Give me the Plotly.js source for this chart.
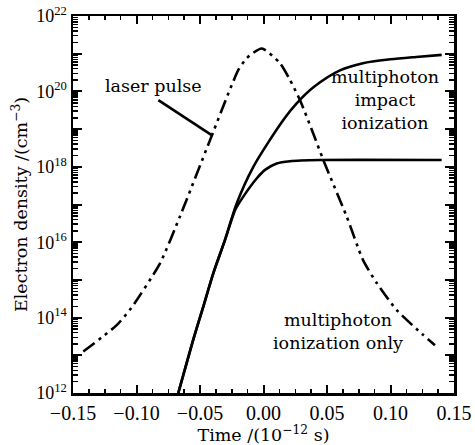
<!DOCTYPE html>
<html>
<head>
<meta charset="utf-8">
<script src="https://cdn.plot.ly/plotly-3.0.1.min.js"></script>
<style>html,body{margin:0;padding:0;background:#fff;}#chart{width:475px;height:445px;}</style>
</head>
<body>
<div id="chart"></div>
<script>
// Time in units of 1e-12 s; electron density in cm^-3
var laserTime = [-0.1419, -0.1156, -0.1038, -0.0815, -0.0657, -0.0421, -0.0198, -0.0132, -0.0014, 0.0130, 0.0209, 0.0287, 0.0390, 0.0471, 0.0655, 0.0783, 0.0891, 0.1049, 0.1256, 0.1350];
var laserDensity = [1.26e13, 6.3e13, 1.86e14, 2.75e15, 4.9e16, 5.1e18, 3.7e20, 7.6e20, 1.38e21, 5.6e20, 2.0e20, 5.9e19, 7.9e18, 1.51e18, 4.8e16, 3.4e15, 8.3e14, 1.58e14, 3.5e13, 1.86e13];

var impactTime = [-0.0671, -0.0553, -0.0474, -0.0395, -0.0303, -0.0211, -0.0080, 0.0156, 0.0261, 0.0398, 0.0602, 0.0783, 0.1000, 0.1201, 0.1403];
var impactDensity = [1e12, 2.6e13, 1.95e14, 1.51e15, 1.15e16, 1.07e17, 1.0e18, 1.74e19, 4.8e19, 1.32e20, 3.6e20, 5.6e20, 7.1e20, 8.2e20, 9.3e20];

var mpiTime = [-0.0671, -0.0553, -0.0474, -0.0395, -0.0303, -0.0224, -0.0159, -0.0054, 0.0012, 0.0104, 0.0209, 0.0445, 0.1403];
var mpiDensity = [1e12, 2.6e13, 1.95e14, 1.51e15, 1.15e16, 7.1e16, 1.62e17, 4.9e17, 8.3e17, 1.23e18, 1.41e18, 1.51e18, 1.51e18];

var xTickVals = [-0.15, -0.10, -0.05, 0.00, 0.05, 0.10, 0.15];
var yTickExps = [12, 13, 14, 15, 16, 17, 18, 19, 20, 21, 22];
var yTickLabels = ['10<sup>12</sup>', '', '10<sup>14</sup>', '', '10<sup>16</sup>', '', '10<sup>18</sup>', '', '10<sup>20</sup>', '', '10<sup>22</sup>'];

var yTickVals = yTickExps.map(function (e) { return Math.pow(10, e); });
var yMinorVals = [];
yTickExps.slice(0, -1).forEach(function (e) {
  for (var m = 2; m <= 9; m++) yMinorVals.push(m * Math.pow(10, e));
});

var serif = "'DejaVu Serif', serif";
var tickSerif = "'Liberation Serif', serif";
var lw = 2.6;

var traces = [
  {x: laserTime, y: laserDensity, mode: 'lines', line: {color: '#000', width: lw, dash: '14px,5px,3px,5px,3px,5px', shape: 'spline', smoothing: 0.6}, hoverinfo: 'skip'},
  {x: impactTime, y: impactDensity, mode: 'lines', line: {color: '#000', width: lw, shape: 'spline', smoothing: 0.8}, hoverinfo: 'skip'},
  {x: mpiTime, y: mpiDensity, mode: 'lines', line: {color: '#000', width: lw, shape: 'spline', smoothing: 0.6}, hoverinfo: 'skip'}
];

var layout = {
  width: 475, height: 445,
  margin: {l: 73, r: 21, t: 16, b: 52},
  paper_bgcolor: '#fff', plot_bgcolor: '#fff',
  showlegend: false,
  font: {family: serif, color: '#000', size: 17},
  xaxis: {
    range: [-0.15, 0.15], tickmode: 'array', tickvals: xTickVals, tickformat: '.2f',
    ticks: 'inside', ticklen: 8, tickwidth: 2, tickcolor: '#000',
    minor: {dtick: 0.0125, tick0: -0.15, ticks: 'inside', ticklen: 4, tickwidth: 1.5, tickcolor: '#000'},
    showline: true, linewidth: 2.5, linecolor: '#000', mirror: 'ticks',
    showgrid: false, zeroline: false,
    tickfont: {family: tickSerif, size: 20},
    title: {text: 'Time /(10<sup>\u221212</sup> s)', font: {family: serif, size: 17.5}, standoff: 1}
  },
  yaxis: {
    type: 'log', range: [12, 22], tickmode: 'array', tickvals: yTickVals, ticktext: yTickLabels,
    ticks: 'inside', ticklen: 9, tickwidth: 2, tickcolor: '#000',
    minor: {tickmode: 'array', tickvals: yMinorVals, ticks: 'inside', ticklen: 5, tickwidth: 1.5, tickcolor: '#000'},
    showline: true, linewidth: 2.5, linecolor: '#000', mirror: 'ticks',
    showgrid: false, zeroline: false,
    tickfont: {family: tickSerif, size: 18},
    title: {text: 'Electron density /(cm<sup>\u22123</sup>)', font: {family: serif, size: 17.5}, standoff: 4}
  },
  shapes: [
    {type: 'line', xref: 'x', yref: 'y', x0: -0.0828, y0: 5.9e19, x1: -0.0408, y1: 6.9e18, line: {color: '#000', width: 2.6}}
  ],
  annotations: [
    {x: -0.087, y: 20.14, xref: 'x', yref: 'y', text: 'laser pulse', showarrow: false, font: {family: serif, size: 17.5}},
    {x: 0.0957, y: 19.77, xref: 'x', yref: 'y', text: 'multiphoton<br>impact<br>ionization', showarrow: false, align: 'center', font: {family: serif, size: 17.5}},
    {x: 0.0587, y: 13.62, xref: 'x', yref: 'y', text: 'multiphoton<br>ionization only', showarrow: false, align: 'center', font: {family: serif, size: 17.5}}
  ]
};

Plotly.newPlot('chart', traces, layout, {displayModeBar: false, staticPlot: true});
</script>
</body>
</html>
